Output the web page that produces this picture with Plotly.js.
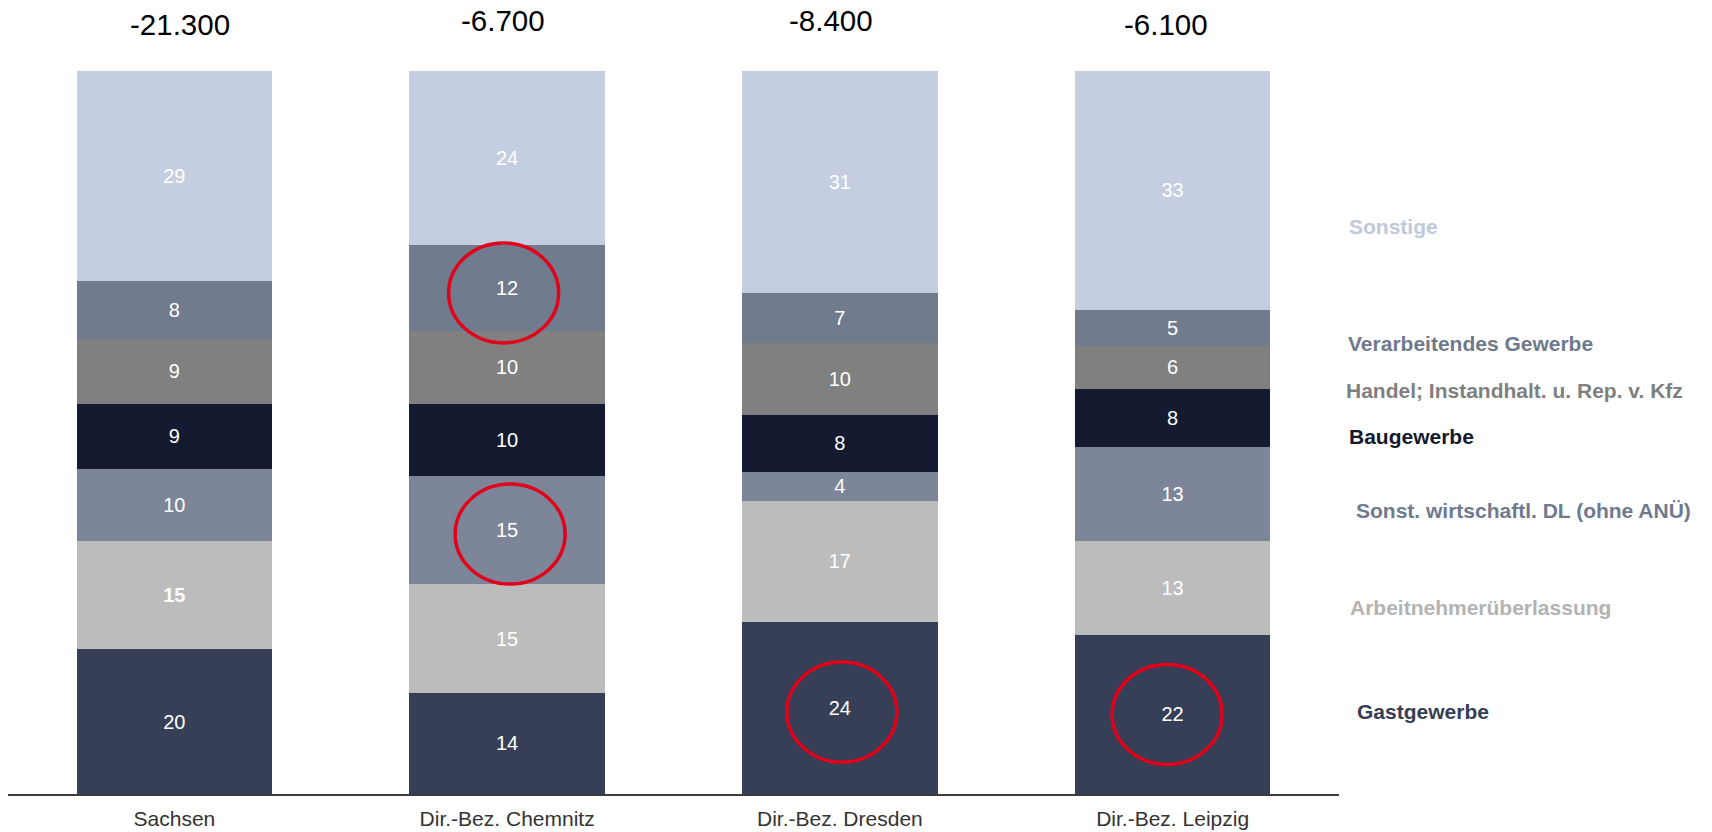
<!DOCTYPE html>
<html>
<head>
<meta charset="utf-8">
<script src="https://cdn.plot.ly/plotly-3.0.1.min.js"></script>
<style>
  html, body { margin: 0; padding: 0; background: #ffffff; }
  #chart { width: 1712px; height: 832px; }
</style>
</head>
<body>
<div id="chart"></div>
<script>
// ---------- data ----------
const categories = ["Sachsen", "Dir.-Bez. Chemnitz", "Dir.-Bez. Dresden", "Dir.-Bez. Leipzig"];
const totals = ["-21.300", "-6.700", "-8.400", "-6.100"];

// series from bottom to top
const seriesNames = [
  "Gastgewerbe",
  "Arbeitnehmerüberlassung",
  "Sonst. wirtschaftl. DL (ohne ANÜ)",
  "Baugewerbe",
  "Handel; Instandhalt. u. Rep. v. Kfz",
  "Verarbeitendes Gewerbe",
  "Sonstige"
];
const gastgewerbe      = [20, 14, 24, 22];
const arbeitnehmer     = [15, 15, 17, 13];
const sonstWirtschDL   = [10, 15, 4, 13];
const baugewerbe       = [9, 10, 8, 8];
const handel           = [9, 10, 10, 6];
const verarbeitendes   = [8, 12, 7, 5];
const sonstige         = [29, 24, 31, 33];
const seriesValues = [gastgewerbe, arbeitnehmer, sonstWirtschDL, baugewerbe, handel, verarbeitendes, sonstige];

// highlighted (circled) cells and bold labels
const circled = [
  ["Dir.-Bez. Chemnitz", "Verarbeitendes Gewerbe"],
  ["Dir.-Bez. Chemnitz", "Sonst. wirtschaftl. DL (ohne ANÜ)"],
  ["Dir.-Bez. Dresden", "Gastgewerbe"],
  ["Dir.-Bez. Leipzig", "Gastgewerbe"]
];
const boldLabels = [["Sachsen", "Arbeitnehmerüberlassung"]];

// ---------- styles ----------
const barColors = ["#363f55", "#bcbcbc", "#7d8699", "#141a2f", "#808080", "#717b8e", "#c5cee0"];
const labelColors = ["#363e53", "#b3b3b3", "#6f7a8f", "#141a2e", "#7f7f7f", "#6f798c", "#c0c9dc"];
// label pixel positions (left x, center y) in page coordinates
const labelPos = [[1355, 711], [1348, 607], [1354, 510], [1347, 436], [1344, 390], [1346, 343], [1347, 226]];
const totalShift = [[6, 47], [-4, 51], [-9, 51], [-7, 47]];
// hand-drawn circle offsets (px, right / down) from the segment centre
const circleOffset = [[-3.5, 5], [3, 4], [2, 4], [-5.5, 0]];
const circleRx = 55, circleRy = 50;

const M = {l: 8, r: 373, t: 71, b: 38};
const W = 1712, H = 832;
const plotRight = W - M.r, plotBottom = H - M.b;

const font = "Liberation Sans, Arial, Helvetica, sans-serif";

const traces = seriesNames.map((name, si) => ({
  type: "bar",
  name: name,
  x: categories,
  y: seriesValues[si],
  text: seriesValues[si].map((v, ci) =>
    boldLabels.some(b => b[0] === categories[ci] && b[1] === name) ? "<b>" + v + "</b>" : String(v)),
  textposition: "inside",
  insidetextanchor: "middle",
  constraintext: "none",
  textfont: {color: "#ffffff", size: 20, family: font},
  marker: {color: barColors[si], line: {width: 0}},
  hoverinfo: "skip"
}));

const annotations = [];
categories.forEach((c, ci) => {
  annotations.push({
    xref: "x", yref: "paper", x: c, y: 1, yanchor: "middle", xanchor: "center",
    xshift: totalShift[ci][0], yshift: totalShift[ci][1],
    text: totals[ci], showarrow: false,
    font: {size: 29.5, color: "#000000", family: font}
  });
});
seriesNames.forEach((n, si) => {
  annotations.push({
    xref: "paper", yref: "paper", x: 1, y: 0, xanchor: "left", yanchor: "middle",
    xshift: labelPos[si][0] - plotRight, yshift: plotBottom - labelPos[si][1],
    text: "<b>" + n + "</b>", showarrow: false,
    font: {size: 21, color: labelColors[si], family: font}
  });
});

const shapes = circled.map(([cat, ser], k) => {
  const ci = categories.indexOf(cat);
  const si = seriesNames.indexOf(ser);
  const total = seriesValues.reduce((s, arr) => s + arr[ci], 0);
  let below = 0;
  for (let j = 0; j < si; j++) below += seriesValues[j][ci];
  const mid = (below + seriesValues[si][ci] / 2) / total * 100;
  const [dx, dy] = circleOffset[k];
  return {
    type: "circle", xref: "x", yref: "y",
    xsizemode: "pixel", ysizemode: "pixel",
    xanchor: ci, yanchor: mid,
    x0: dx - circleRx, x1: dx + circleRx,
    y0: -dy - circleRy, y1: -dy + circleRy,
    line: {color: "#e2001a", width: 3.5}
  };
});

const layout = {
  width: W, height: H,
  margin: M,
  paper_bgcolor: "#ffffff", plot_bgcolor: "#ffffff",
  barmode: "stack", barnorm: "percent", bargap: 0.412,
  showlegend: false,
  hovermode: false,
  font: {family: font},
  xaxis: {
    type: "category",
    showline: true, linecolor: "#3c3c3c", linewidth: 2,
    showgrid: false, zeroline: false, ticks: "",
    ticklabelstandoff: 5,
    tickfont: {size: 21, color: "#333333", family: font},
    fixedrange: true
  },
  yaxis: {
    range: [0, 100], visible: false, showgrid: false, zeroline: false, fixedrange: true
  },
  annotations: annotations,
  shapes: shapes
};

Plotly.newPlot("chart", traces, layout, {displayModeBar: false, staticPlot: true});
</script>
</body>
</html>
